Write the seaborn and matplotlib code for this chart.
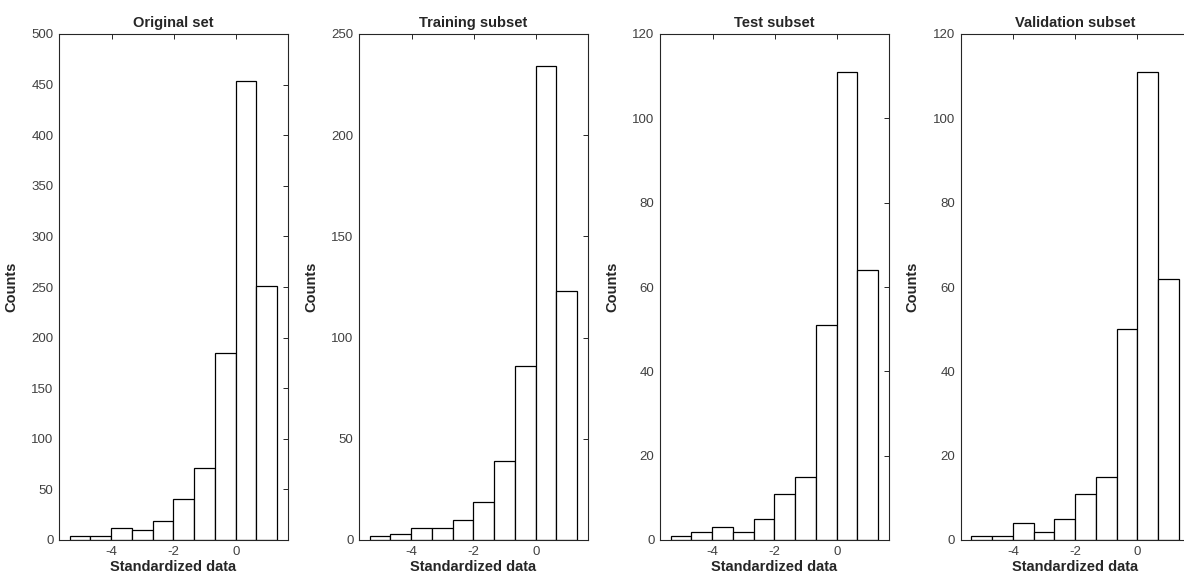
import numpy as np
import pandas as pd
import matplotlib
matplotlib.use("Agg")
import matplotlib.pyplot as plt
import seaborn as sns

# bin edges of the standardized data (shared by all panels)
bin_edges = [-5.36, -4.69, -4.02, -3.35, -2.68, -2.01, -1.34, -0.67, 0.0, 0.67, 1.34]

original_counts = [4, 4, 12, 10, 19, 41, 71, 185, 454, 251]
training_counts = [2, 3, 6, 6, 10, 19, 39, 86, 234, 123]
test_counts = [1, 2, 3, 2, 5, 11, 15, 51, 111, 64]
validation_counts = [1, 1, 4, 2, 5, 11, 15, 50, 111, 62]

titles = ["Original set", "Training subset", "Test subset", "Validation subset"]
y_ticks = [list(range(0, 501, 50)), list(range(0, 251, 50)),
           list(range(0, 121, 20)), list(range(0, 121, 20))]
x_ticks = [-4, -2, 0]

sns.set_style("white")
plt.rcParams["font.family"] = ["Liberation Sans", "DejaVu Sans"]
plt.rcParams["axes.unicode_minus"] = False

W, H = 1184, 581
fig = plt.figure(figsize=(W / 100, H / 100), dpi=100)

edges = np.array(bin_edges)
centers = (edges[:-1] + edges[1:]) / 2
all_counts = [original_counts, training_counts, test_counts, validation_counts]
lefts = [59, 359, 660, 960.7]
ax_w, ax_top, ax_bot = 228.5, 34, 540
axis_grey = "#262626"

for i, counts in enumerate(all_counts):
    ax = fig.add_axes([lefts[i] / W, (H - ax_bot) / H, ax_w / W, (ax_bot - ax_top) / H])
    df = pd.DataFrame({"x": centers, "n": counts})
    sns.histplot(data=df, x="x", weights="n", bins=list(bin_edges), ax=ax,
                 color="white", edgecolor="black", linewidth=0.9, alpha=1)
    ax.set_xlim(-5.7, 1.67)
    ax.set_ylim(y_ticks[i][0], y_ticks[i][-1])
    ax.set_xticks(x_ticks)
    ax.set_yticks(y_ticks[i])
    ax.tick_params(direction="in", length=3.5, width=0.7, colors=axis_grey,
                   labelsize=9.5, top=True, right=True, pad=4)
    ax.tick_params(labelcolor="#404040")
    for s in ax.spines.values():
        s.set_visible(True)
        s.set_color(axis_grey)
        s.set_linewidth(0.8)
    ax.set_title(titles[i], fontsize=10.5, fontweight="bold", pad=5)
    ax.set_xlabel("Standardized data", fontsize=10.5, fontweight="bold", color=axis_grey, labelpad=2)
    ax.set_ylabel("Counts", fontsize=10.5, fontweight="bold", color=axis_grey)
    ax.yaxis.set_label_coords(-41 / ax_w, 0.5)

fig.savefig("out.png", dpi=100)
